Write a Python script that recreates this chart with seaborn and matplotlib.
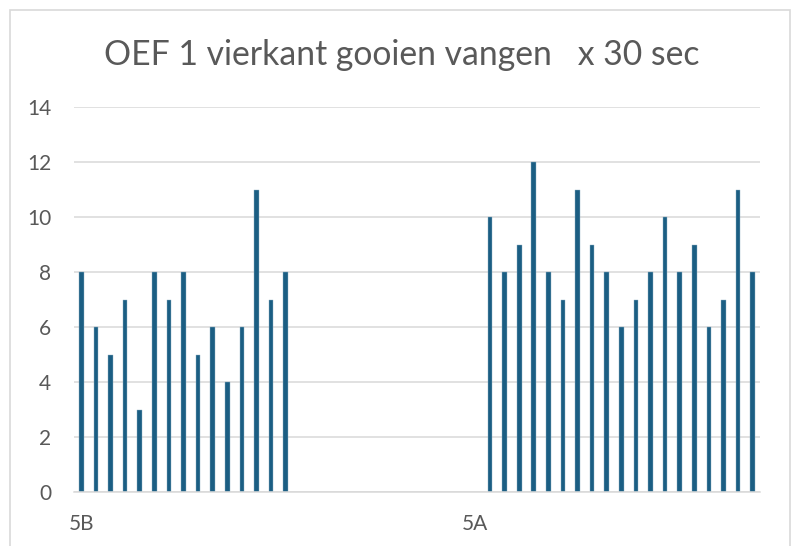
import matplotlib
matplotlib.use("Agg")
import matplotlib.pyplot as plt
from matplotlib.patches import Rectangle
import seaborn as sns
import pandas as pd

# ---- data ----
categories = ["5B", "5A"]
values_5B = [8, 6, 5, 7, 3, 8, 7, 8, 5, 6, 4, 6, 11, 7, 8]
values_5A = [10, 8, 9, 12, 8, 7, 11, 9, 8, 6, 7, 8, 10, 8, 9, 6, 7, 11, 8]
group_start = [0, 28]      # slot index where each class's bars begin
label_slot = [0, 27]       # slot where each category label sits
y_ticks = [0, 2, 4, 6, 8, 10, 12, 14]
title = "OEF 1 vierkant gooien vangen   x 30 sec"

rows = []
for cat, start, vals in zip(categories, group_start, [values_5B, values_5A]):
    for i, v in enumerate(vals):
        rows.append({"klas": cat, "slot": start + i, "score": v})
df = pd.DataFrame(rows)

sns.set_theme(style="white")
plt.rcParams["font.family"] = ["Lato", "DejaVu Sans"]

fig = plt.figure(figsize=(7.98, 5.46), dpi=100)
ax = fig.add_axes([74 / 798, 1 - 492 / 546, (760 - 74) / 798, (492 - 107) / 546])

sns.barplot(data=df, x="slot", y="score", native_scale=True, width=0.32,
            color="#1b5e83", saturation=1, edgecolor="#8fb0c4", linewidth=0.3,
            ax=ax, errorbar=None)

ax.set_xlim(-0.5, 46.5)
ax.set_ylim(0, 14)
ax.set_yticks(y_ticks)
ax.set_yticklabels([str(t) for t in y_ticks])
ax.set_xticks(label_slot)
ax.set_xticklabels(categories)
ax.set_xlabel("")
ax.set_ylabel("")
ax.yaxis.grid(True, color="#d9d9d9", linewidth=1.1)
ax.set_axisbelow(True)
for s in ["top", "right", "left"]:
    ax.spines[s].set_visible(False)
ax.spines["bottom"].set_color("#d9d9d9")
ax.spines["bottom"].set_linewidth(1.1)
ax.tick_params(axis="y", length=0, pad=16.5, labelsize=15, labelcolor="#595959")
ax.tick_params(axis="x", length=0, pad=16, labelsize=15, labelcolor="#595959")

fig.text(402 / 798, 1 - 55 / 546, title, ha="center", va="center",
         fontsize=24.3, color="#595959", fontweight="normal")

border = Rectangle((10 / 798, -0.05), (790 - 10) / 798, 1 - 10 / 546 + 0.05,
                   transform=fig.transFigure, fill=False, edgecolor="#d9d9d9",
                   linewidth=1.2, zorder=10)
fig.patches.append(border)

fig.savefig("out.png", dpi=100)
